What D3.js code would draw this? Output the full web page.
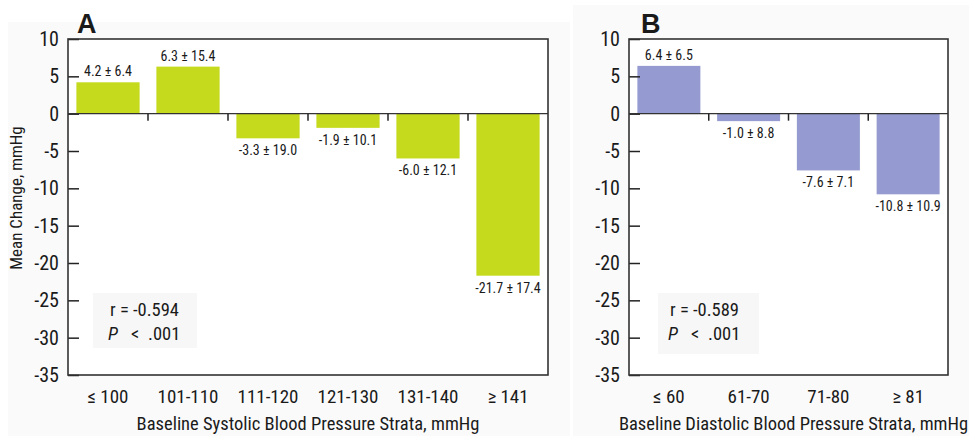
<!DOCTYPE html>
<html><head><meta charset="utf-8">
<script src="https://cdn.jsdelivr.net/npm/d3@7"></script>
<style>
body{margin:0;background:#fff;}
svg text{font-family:"Liberation Sans Narrow","Roboto Condensed","Arial Narrow",sans-serif;fill:#1a1a1a;}
</style></head><body>
<svg id="c" width="969" height="436"></svg>
<script>
const sysCats = ["≤ 100","101-110","111-120","121-130","131-140","≥ 141"];
const sysMeans = [4.2, 6.3, -3.3, -1.9, -6.0, -21.7];
const sysSD = [6.4, 15.4, 19.0, 10.1, 12.1, 17.4];
const diaCats = ["≤ 60","61-70","71-80","≥ 81"];
const diaMeans = [6.4, -1.0, -7.6, -10.8];
const diaSD = [6.5, 8.8, 7.1, 10.9];
const yTicks = [10,5,0,-5,-10,-15,-20,-25,-30,-35];

const svg = d3.select("#c");
// faint background panels
svg.append("rect").attr("x",8).attr("y",22).attr("width",562).attr("height",414).attr("fill","#fafafa");
svg.append("rect").attr("x",573).attr("y",5).attr("width",396).attr("height",431).attr("fill","#fafafa");

function panel(o){
  const y = d3.scaleLinear().domain([-35,10]).range([o.bottom,o.top]);
  const x = d3.scaleBand().domain(o.cats).range([o.left,o.right]).paddingInner(0.21).paddingOuter(0.105);
  const g = svg.append("g");
  g.append("rect").attr("x",o.left).attr("y",o.top).attr("width",o.right-o.left).attr("height",o.bottom-o.top).attr("fill","#fff");
  // stats box
  g.append("rect").attr("x",o.box[0]).attr("y",o.box[1]).attr("width",o.box[2]).attr("height",o.box[3]).attr("fill","#f7f7f7");
  const data = o.cats.map((c,i)=>({c,m:o.means[i],s:o.sd[i]}));
  g.selectAll(".bar").data(data).join("rect")
    .attr("x",d=>x(d.c)).attr("width",x.bandwidth())
    .attr("y",d=>y(Math.max(0,d.m))).attr("height",d=>Math.abs(y(d.m)-y(0)))
    .attr("fill",o.color);
  g.selectAll(".lab").data(data).join("text")
    .attr("x",d=>x(d.c)+x.bandwidth()/2)
    .attr("y",d=>d.m>=0 ? y(d.m)-6 : y(d.m)+17)
    .attr("text-anchor","middle").attr("font-size",14).attr("fill","#333")
    .text(d=>d.m.toFixed(1)+" ± "+d.s.toFixed(1));
  // y axis
  const ya = d3.axisLeft(y).tickValues(yTicks).tickSize(-11).tickPadding(9).tickFormat(d3.format("d"));
  const ay = g.append("g").attr("transform",`translate(${o.left},0)`).call(ya);
  ay.select(".domain").remove();
  ay.selectAll("line").attr("stroke","#222").attr("stroke-width",1.5);
  ay.selectAll("text").attr("font-size",20).attr("fill","#1a1a1a").text(d=>String(d).replace("\u2212","-"));
  // zero line
  g.append("line").attr("x1",o.left).attr("x2",o.right).attr("y1",y(0)).attr("y2",y(0)).attr("stroke","#333").attr("stroke-width",1.2);
  // boundary ticks at zero
  const bounds = o.cats.slice(1).map(c=>x(c)-x.step()*0.21/2);
  g.selectAll(".bt").data(bounds).join("line")
    .attr("x1",d=>d).attr("x2",d=>d).attr("y1",y(0)).attr("y2",y(0)+7).attr("stroke","#222").attr("stroke-width",1.5);
  // frame
  g.append("rect").attr("x",o.left).attr("y",o.top).attr("width",o.right-o.left).attr("height",o.bottom-o.top)
    .attr("fill","none").attr("stroke","#333").attr("stroke-width",1.6);
  // category labels
  g.selectAll(".cl").data(o.cats).join("text")
    .attr("x",d=>x(d)+x.bandwidth()/2).attr("y",403).attr("text-anchor","middle").attr("font-size",19).text(d=>d);
  g.append("text").attr("x",(o.left+o.right)/2+o.tdx).attr("y",430).attr("text-anchor","middle").attr("font-size",18.5).text(o.xtitle);
  g.append("text").attr("x",o.letterX).attr("y",33).attr("font-size",27).attr("font-weight","bold")
    .style("font-family","'Liberation Sans','Arial',sans-serif").attr("fill","#000").text(o.letter);
  const bx = o.box[0]+o.tx;
  g.append("text").attr("x",bx).attr("y",316).attr("font-size",18.5).text(o.r);
  const p = g.append("text").attr("y",340).attr("font-size",18.5);
  p.append("tspan").attr("x",bx-2).attr("font-style","italic").text("P");
  p.append("tspan").attr("x",bx+21).text("<");
  p.append("tspan").attr("x",bx+38).text(".001");
}

panel({left:68,right:548,top:39,bottom:375,cats:sysCats,means:sysMeans,sd:sysSD,color:"#c5da1c",
  xtitle:"Baseline Systolic Blood Pressure Strata, mmHg",letter:"A",letterX:77,box:[93,293,104,55],tx:17,r:"r = -0.594",tdx:0});
panel({left:629,right:948,top:39,bottom:375,cats:diaCats,means:diaMeans,sd:diaSD,color:"#959bd0",
  xtitle:"Baseline Diastolic Blood Pressure Strata, mmHg",letter:"B",letterX:641,box:[658,293,101,61],tx:12,r:"r = -0.589",tdx:5});

svg.append("text").attr("transform","translate(22,198) rotate(-90)").attr("text-anchor","middle")
  .attr("font-size",17).text("Mean Change, mmHg");
</script></body></html>
